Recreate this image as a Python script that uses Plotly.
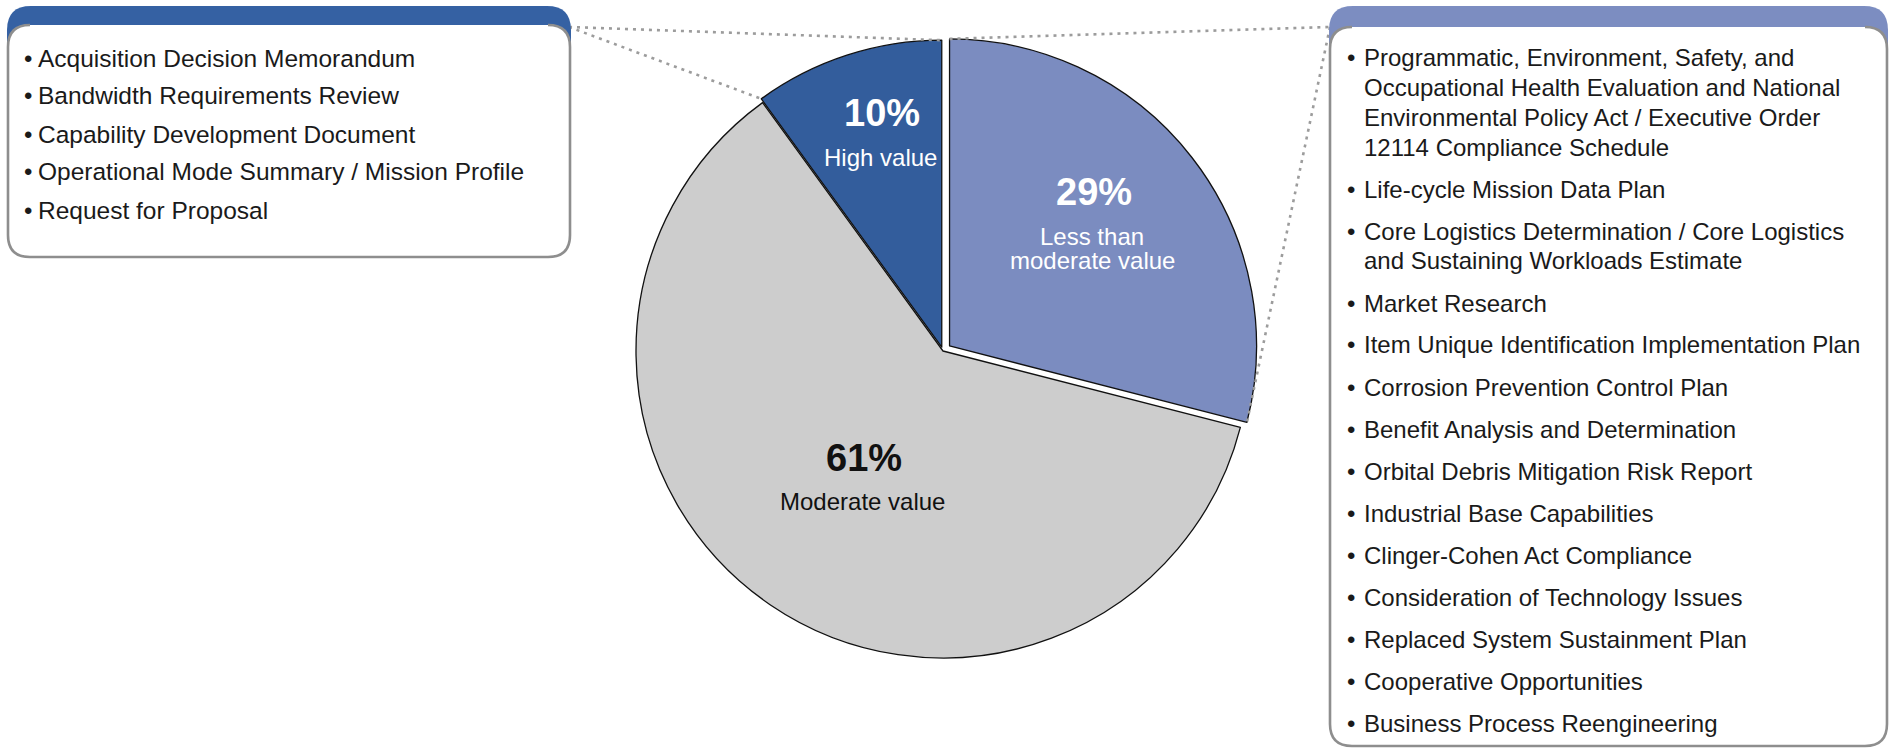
import math
import plotly.graph_objects as go

# ---------------- data ----------------
W, H = 1891, 752

categories = ["Less than moderate value", "Moderate value", "High value"]
values = [29, 61, 10]
slice_colors = ["#7B8CC0", "#CDCDCD", "#335D9C"]
pulls = [0.027, 0.0, 0.013]
label_lines = [["Less than", "moderate value"], ["Moderate value"], ["High value"]]
label_colors = ["#FFFFFF", "#111111", "#FFFFFF"]

high_value_items = [
    "Acquisition Decision Memorandum",
    "Bandwidth Requirements Review",
    "Capability Development Document",
    "Operational Mode Summary / Mission Profile",
    "Request for Proposal",
]

less_than_moderate_items = [
    ["Programmatic, Environment, Safety, and",
     "Occupational Health Evaluation and National",
     "Environmental Policy Act / Executive Order",
     "12114 Compliance Schedule"],
    ["Life-cycle Mission Data Plan"],
    ["Core Logistics Determination / Core Logistics",
     "and Sustaining Workloads Estimate"],
    ["Market Research"],
    ["Item Unique Identification Implementation Plan"],
    ["Corrosion Prevention Control Plan"],
    ["Benefit Analysis and Determination"],
    ["Orbital Debris Mitigation Risk Report"],
    ["Industrial Base Capabilities"],
    ["Clinger-Cohen Act Compliance"],
    ["Consideration of Technology Issues"],
    ["Replaced System Sustainment Plan"],
    ["Cooperative Opportunities"],
    ["Business Process Reengineering"],
]

# ---------------- helpers ----------------
FONT = "Liberation Sans, Arial, Helvetica, sans-serif"
TEXT_COLOR = "#1A1A1A"


def px(x):
    return x / W


def py(y):
    return 1 - y / H


# pie geometry (pixels)
cx, cy, R = 943, 351, 307
half = R * (1 + max(pulls))
dom_x = [px(cx - half), px(cx + half)]
dom_y = [py(cy + half), py(cy - half)]

total = sum(values)
starts, ends = [], []
acc = 0
for v in values:
    starts.append(360 * acc / total)
    acc += v
    ends.append(360 * acc / total)


def slice_point(i, ang):
    mid = math.radians((starts[i] + ends[i]) / 2)
    off = pulls[i] * R
    scx = cx + off * math.sin(mid)
    scy = cy - off * math.cos(mid)
    a = math.radians(ang)
    return scx + R * math.sin(a), scy - R * math.cos(a)


fig = go.Figure()
fig.add_trace(go.Pie(
    labels=categories,
    values=values,
    sort=False,
    direction="clockwise",
    rotation=0,
    pull=pulls,
    marker=dict(colors=slice_colors, line=dict(color="#111111", width=1.3)),
    textinfo="none",
    hoverinfo="label+percent",
    domain=dict(x=dom_x, y=dom_y),
    showlegend=False,
))

shapes = []
annotations = []

# ---------------- connector dotted lines ----------------
dot = dict(color="#9C9C9C", width=2.6, dash="3px,5px")
left_corner = (569, 27)
right_corner = (1330, 27)
hv = categories.index("High value")
lm = categories.index("Less than moderate value")
p_hv_top = slice_point(hv, ends[hv])
p_hv_side = slice_point(hv, starts[hv])
p_lm_top = slice_point(lm, starts[lm])
p_lm_side = slice_point(lm, ends[lm])
for a, b in [(left_corner, p_hv_top), (left_corner, p_hv_side),
             (p_lm_top, right_corner), (right_corner, p_lm_side)]:
    shapes.append(dict(type="line", xref="paper", yref="paper",
                       x0=px(a[0]), y0=py(a[1]), x1=px(b[0]), y1=py(b[1]),
                       line=dot, layer="above"))


# ---------------- boxes ----------------
def to_path(pts):
    out = []
    for p in pts:
        cmd = p[0]
        coords = p[1:]
        s = []
        for k in range(0, len(coords), 2):
            s.append(f"{px(coords[k]):.5f},{py(coords[k + 1]):.5f}")
        out.append(cmd + " " + " ".join(s))
    return " ".join(out)


def rrect_path(x0, y0, x1, y1, r):
    pts = [
        ("M", x0 + r, y0), ("L", x1 - r, y0), ("Q", x1, y0, x1, y0 + r),
        ("L", x1, y1 - r), ("Q", x1, y1, x1 - r, y1), ("L", x0 + r, y1),
        ("Q", x0, y1, x0, y1 - r), ("L", x0, y0 + r), ("Q", x0, y0, x0 + r, y0),
    ]
    return to_path(pts) + " Z"


def border_path(x0, y0, x1, y1, r):
    pts = [
        ("M", x0 + r, y0), ("Q", x0, y0, x0, y0 + r), ("L", x0, y1 - r),
        ("Q", x0, y1, x0 + r, y1), ("L", x1 - r, y1), ("Q", x1, y1, x1, y1 - r),
        ("L", x1, y0 + r), ("Q", x1, y0, x1 - r, y0),
    ]
    return to_path(pts)


def add_box(x0, x1, y_top, y_body, y1, head_color):
    shapes.append(dict(type="path", xref="paper", yref="paper", layer="above",
                       path=rrect_path(x0, y_top, x1, y_body + 40, 24),
                       fillcolor=head_color, line=dict(width=0)))
    shapes.append(dict(type="path", xref="paper", yref="paper", layer="above",
                       path=rrect_path(x0 + 1, y_body, x1 - 1, y1, 22),
                       fillcolor="#FFFFFF", line=dict(width=0)))
    shapes.append(dict(type="path", xref="paper", yref="paper", layer="above",
                       path=border_path(x0 + 1, y_body, x1 - 1, y1, 22),
                       line=dict(color="#8E8E8E", width=2.6)))


add_box(7, 571, 6, 25, 257, "#3561A3")
add_box(1329, 1888, 6, 27, 746, "#7C8DC1")

# ---------------- list texts ----------------
FS = 24


def add_line(x, y, text, size=FS):
    annotations.append(dict(xref="paper", yref="paper", x=px(x), y=py(y),
                            text=text, showarrow=False, xanchor="left",
                            yanchor="middle", align="left",
                            font=dict(family=FONT, size=size, color=TEXT_COLOR)))


for i, item in enumerate(high_value_items):
    y = 58 + 38 * i
    add_line(22, y, "•")
    add_line(36, y, item, 24.5)

lines_before = 0
for i, item in enumerate(less_than_moderate_items):
    for j, line in enumerate(item):
        y = 57 + 30 * (lines_before + j) + 12 * i
        if j == 0:
            add_line(1345, y, "•")
        add_line(1362, y, line)
    lines_before += len(item)

# ---------------- slice labels ----------------
pct_pos = {"Less than moderate value": (1094, 192),
           "Moderate value": (864, 458),
           "High value": (882, 113)}
for i, cat in enumerate(categories):
    x, y = pct_pos[cat]
    annotations.append(dict(xref="paper", yref="paper", x=px(x), y=py(y),
                            text=f"<b>{values[i]}%</b>", showarrow=False,
                            xanchor="center", yanchor="middle",
                            font=dict(family=FONT, size=38, color=label_colors[i])))
    for j, ln in enumerate(label_lines[i]):
        annotations.append(dict(xref="paper", yref="paper", x=px(x - 2),
                                y=py(y + 44 + 25 * j), text=ln, showarrow=False,
                                xanchor="center", yanchor="middle",
                                font=dict(family=FONT, size=24, color=label_colors[i])))

fig.update_layout(
    width=W, height=H,
    margin=dict(l=0, r=0, t=0, b=0),
    paper_bgcolor="#FFFFFF",
    plot_bgcolor="#FFFFFF",
    shapes=shapes,
    annotations=annotations,
    showlegend=False,
)

fig.write_html(
    "out.html",
    config={"displayModeBar": False},
    post_script="document.body.style.margin='0px';document.body.style.overflow='hidden';",
)
